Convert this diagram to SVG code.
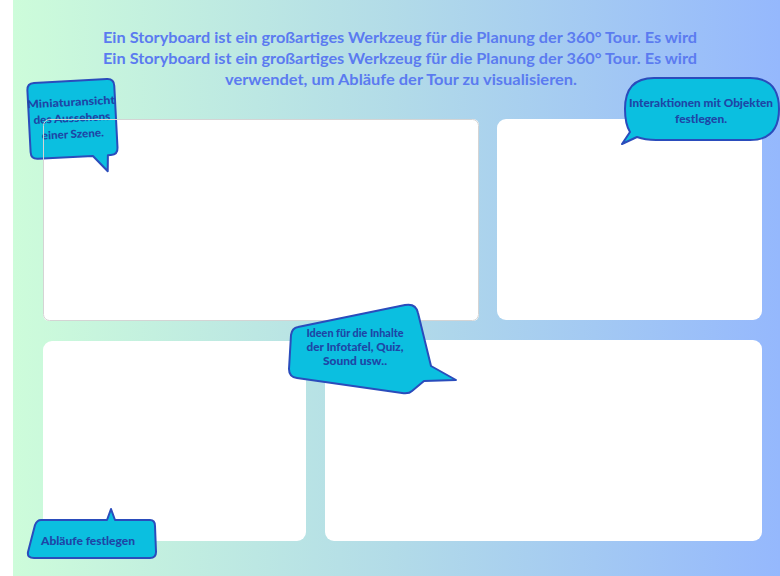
<svg xmlns="http://www.w3.org/2000/svg" width="780" height="576" viewBox="0 0 780 576">
<defs>
<linearGradient id="bg" x1="0" y1="0" x2="1" y2="0">
<stop offset="0" stop-color="#cdfcda"/>
<stop offset="0.5" stop-color="#b2dbe8"/>
<stop offset="1" stop-color="#95b8fd"/>
</linearGradient>
</defs>
<style>
.title{font-family:"Lato","Open Sans",sans-serif;font-weight:700;font-size:15px;fill:#5b7bf0;text-anchor:middle}
.panel{fill:#ffffff}
.bub{fill:#0bbfe0;stroke:#2a4cbc;stroke-width:2;stroke-linejoin:round}
.bt{font-family:"Lato","Open Sans",sans-serif;font-weight:900;font-size:11px;fill:#1e46a6;text-anchor:middle}
</style>
<rect x="0" y="0" width="780" height="576" fill="#ffffff"/>
<rect x="13" y="0" width="767" height="576" fill="url(#bg)"/>
<g id="title">
<text class="title" x="400" y="43" textLength="594" lengthAdjust="spacingAndGlyphs">Ein Storyboard ist ein großartiges Werkzeug für die Planung der 360° Tour. Es wird</text>
<text class="title" x="400" y="64" textLength="594" lengthAdjust="spacingAndGlyphs">Ein Storyboard ist ein großartiges Werkzeug für die Planung der 360° Tour. Es wird</text>
<text class="title" x="401" y="85" textLength="352" lengthAdjust="spacingAndGlyphs">verwendet, um Abläufe der Tour zu visualisieren.</text>
</g>
<g id="panel1"><rect class="panel" x="43" y="119" width="436" height="202" rx="6"/></g>
<g id="panel2"><rect class="panel" x="497" y="119" width="265" height="201" rx="9"/></g>
<g id="panel3"><rect class="panel" x="43" y="341" width="263" height="200" rx="9"/></g>
<g id="panel4"><rect class="panel" x="325" y="340" width="437" height="201" rx="9"/></g>
<g id="bubble1" transform="rotate(-3 72 120)">
<path class="bub" d="M36,81 H109 Q116,81 116,88 V150 Q116,157 109,157 H106 L105,173 L91,157 H36 Q29,157 29,150 V88 Q29,81 36,81 Z"/>
<text class="bt" x="72" y="106" textLength="88" lengthAdjust="spacingAndGlyphs">Miniaturansicht</text>
<text class="bt" x="72" y="122" textLength="77" lengthAdjust="spacingAndGlyphs">des Aussehens</text>
<text class="bt" x="72" y="138" textLength="62" lengthAdjust="spacingAndGlyphs">einer Szene.</text>
</g>
<rect x="43.5" y="119.5" width="435" height="201" rx="6" fill="none" stroke="#d4d4d4" stroke-width="1"/>
<g id="bubble2">
<path class="bub" d="M654,78 H750 Q779,78 779,109 Q779,140 750,140 H656 Q645,140 637,137 L622,144 L630,132 Q625,124 625,109 Q625,78 654,78 Z"/>
<text class="bt" x="701" y="107" textLength="144" lengthAdjust="spacingAndGlyphs">Interaktionen mit Objekten</text>
<text class="bt" x="701" y="123" textLength="52" lengthAdjust="spacingAndGlyphs">festlegen.</text>
</g>
<g id="bubble3">
<path class="bub" d="M298,327 L405,305 Q416,303 418,313 L431,366 L456,380 L424,381 L412,391 Q409,394 402,393 L297,378 Q289,377 289,369 L291,335 Q292,328 298,327 Z"/>
<text class="bt" x="355" y="337" textLength="97" lengthAdjust="spacingAndGlyphs">Ideen für die Inhalte</text>
<text class="bt" x="355" y="351" textLength="97" lengthAdjust="spacingAndGlyphs">der Infotafel, Quiz,</text>
<text class="bt" x="355" y="365" textLength="64" lengthAdjust="spacingAndGlyphs">Sound usw..</text>
</g>
<g id="bubble4">
<path class="bub" d="M41,520 H107 L111,509 L115,520 H150 Q155,520 155,526 L156,552 Q156,558 150,558 H34 Q27,558 28,552 L35,525 Q37,520 41,520 Z"/>
<text class="bt" x="41" y="545" style="text-anchor:start" textLength="94" lengthAdjust="spacingAndGlyphs">Abläufe festlegen</text>
</g>
</svg>
